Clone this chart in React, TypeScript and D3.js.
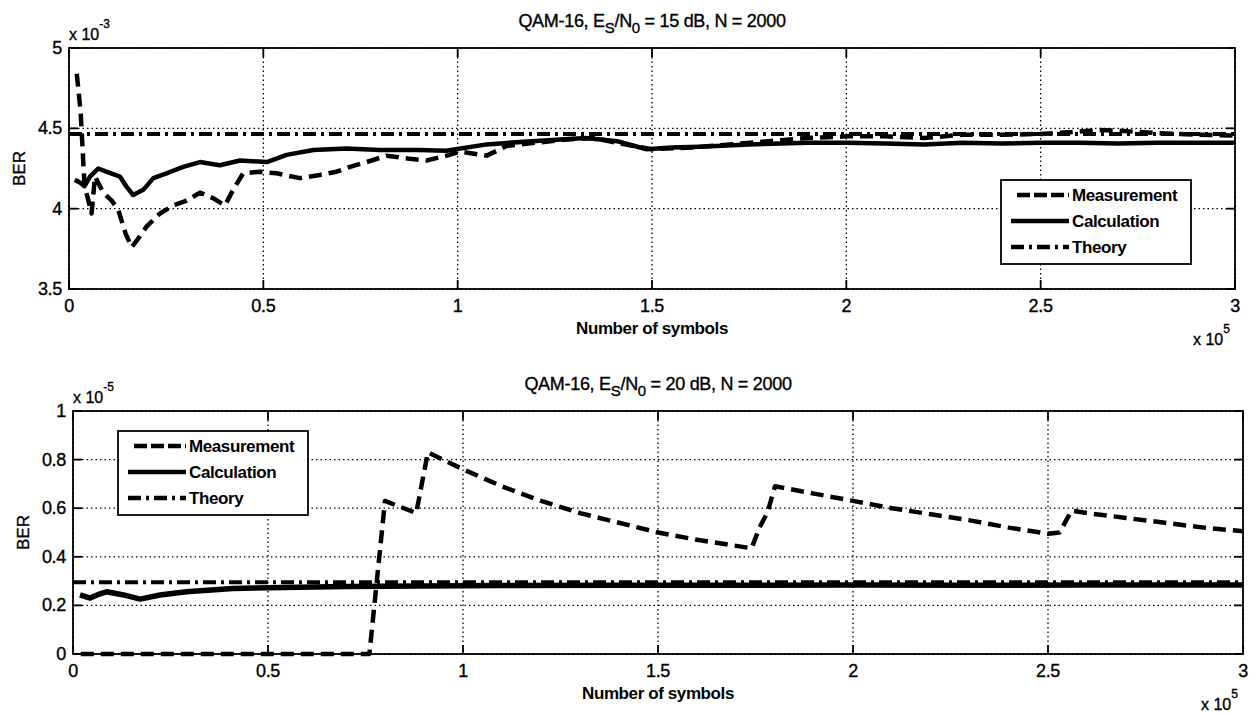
import React from 'react';
import * as d3 from 'd3';

// x in units of 1e5 symbols, BER in units of the axis exponent
const xTicks = [0, 0.5, 1, 1.5, 2, 2.5, 3];
const xTickLabels = ['0', '0.5', '1', '1.5', '2', '2.5', '3'];

const yTicksTop = [3.5, 4, 4.5, 5];
const yTickLabelsTop = ['3.5', '4', '4.5', '5'];
const yTicksBottom = [0, 0.2, 0.4, 0.6, 0.8, 1];
const yTickLabelsBottom = ['0', '0.2', '0.4', '0.6', '0.8', '1'];

const legendLabels = ['Measurement', 'Calculation', 'Theory'];

// Es/N0 = 15 dB (x 10^-3)
const measTop: [number, number][] = [
  [0.02, 4.84], [0.03, 4.6], [0.04, 4.14], [0.05, 4.05], [0.058, 3.97], [0.067, 4.2],
  [0.088, 4.1], [0.11, 4.05], [0.127, 3.99], [0.145, 3.85], [0.161, 3.76], [0.18, 3.82],
  [0.2, 3.89], [0.234, 3.97], [0.268, 4.02], [0.303, 4.05], [0.337, 4.1], [0.371, 4.065],
  [0.401, 4.02], [0.423, 4.12], [0.448, 4.22], [0.491, 4.23], [0.534, 4.22], [0.594, 4.19],
  [0.645, 4.21], [0.688, 4.23], [0.723, 4.26], [0.766, 4.29], [0.817, 4.33], [0.877, 4.31],
  [0.92, 4.3], [0.972, 4.33], [1.006, 4.355], [1.075, 4.33], [1.126, 4.39], [1.2, 4.41],
  [1.28, 4.43], [1.35, 4.44], [1.43, 4.4], [1.5, 4.37], [1.6, 4.38], [1.7, 4.4],
  [1.8, 4.42], [1.9, 4.44], [2.0, 4.45], [2.1, 4.45], [2.2, 4.44], [2.3, 4.46],
  [2.4, 4.46], [2.5, 4.465], [2.6, 4.48], [2.65, 4.49], [2.7, 4.485], [2.8, 4.47],
  [2.9, 4.46], [3.0, 4.455],
];
const calcTop: [number, number][] = [
  [0.015, 4.18], [0.03, 4.16], [0.04, 4.14], [0.054, 4.2], [0.075, 4.25], [0.096, 4.23],
  [0.131, 4.2], [0.148, 4.137], [0.165, 4.085], [0.191, 4.117], [0.217, 4.19], [0.251, 4.22],
  [0.294, 4.26], [0.337, 4.29], [0.388, 4.27], [0.44, 4.3], [0.509, 4.29], [0.56, 4.335],
  [0.629, 4.365], [0.714, 4.375], [0.8, 4.365], [0.9, 4.365], [0.97, 4.36], [1.075, 4.4],
  [1.19, 4.42], [1.33, 4.44], [1.41, 4.42], [1.486, 4.37], [1.55, 4.38], [1.623, 4.385],
  [1.75, 4.4], [1.9, 4.41], [2.0, 4.41], [2.1, 4.405], [2.2, 4.4], [2.3, 4.41],
  [2.4, 4.405], [2.5, 4.41], [2.6, 4.41], [2.7, 4.405], [2.8, 4.41], [2.9, 4.41], [3.0, 4.41],
];
const theoryTop: [number, number][] = [[0, 4.465], [3, 4.465]];

// Es/N0 = 20 dB (x 10^-5)
const measBottom: [number, number][] = [
  [0.02, 0], [0.76, 0], [0.8, 0.63], [0.88, 0.58], [0.91, 0.83], [1.0, 0.76],
  [1.1, 0.69], [1.2, 0.63], [1.3, 0.58], [1.4, 0.54], [1.5, 0.5], [1.6, 0.47],
  [1.74, 0.435], [1.76, 0.52], [1.78, 0.58], [1.8, 0.69], [1.9, 0.66], [2.0, 0.63],
  [2.1, 0.6], [2.2, 0.575], [2.3, 0.55], [2.4, 0.52], [2.5, 0.495], [2.53, 0.5],
  [2.56, 0.59], [2.6, 0.58], [2.7, 0.56], [2.8, 0.54], [2.9, 0.52], [3.0, 0.505],
];
const calcBottom: [number, number][] = [
  [0.018, 0.243], [0.044, 0.23], [0.065, 0.245], [0.086, 0.256], [0.13, 0.243], [0.172, 0.226],
  [0.223, 0.243], [0.291, 0.256], [0.41, 0.27], [0.58, 0.275], [0.7, 0.278], [0.89, 0.28],
  [1.1, 0.282], [1.4, 0.283], [1.7, 0.283], [2.0, 0.284], [2.3, 0.283], [2.6, 0.284], [3.0, 0.284],
];
const theoryBottom: [number, number][] = [[0, 0.295], [3, 0.295]];

const FONT = '"Liberation Sans", Arial, sans-serif';
const DASH = '13,7';
const DASHDOT = '13,5,3,5';

type PanelProps = {
  box: { left: number; right: number; top: number; bottom: number };
  yDomain: [number, number];
  yTicks: number[];
  yTickLabels: string[];
  yExp: string;
  esn0: string;
  meas: [number, number][];
  calc: [number, number][];
  theory: [number, number][];
  calcWidth: number;
  legend: { x: number; y: number };
  id: string;
};

function Panel({ box, yDomain, yTicks, yTickLabels, yExp, esn0, meas, calc, theory, calcWidth, legend, id }: PanelProps) {
  const x = d3.scaleLinear().domain([0, 3]).range([box.left, box.right]);
  const y = d3.scaleLinear().domain(yDomain).range([box.bottom, box.top]);
  const line = d3.line<[number, number]>().x(d => x(d[0])).y(d => y(d[1]));
  const cx = (box.left + box.right) / 2;
  const cy = (box.top + box.bottom) / 2;
  const tick = 9;
  const heavy = { stroke: '#000', strokeWidth: 0.35 };

  return (
    <g fontFamily={FONT} fill="#000">
      <defs>
        <clipPath id={id}>
          <rect x={box.left} y={box.top - 3} width={box.right - box.left} height={box.bottom - box.top + 6} />
        </clipPath>
      </defs>
      {/* grid */}
      {xTicks.map(t => (
        <line key={'gx' + t} x1={x(t)} x2={x(t)} y1={box.top} y2={box.bottom}
          stroke="#000" strokeWidth={1.3} strokeDasharray="1.5,3" />
      ))}
      {yTicks.map(t => (
        <line key={'gy' + t} x1={box.left} x2={box.right} y1={y(t)} y2={y(t)}
          stroke="#000" strokeWidth={1.3} strokeDasharray="1.5,3" />
      ))}
      {/* data */}
      <g clipPath={`url(#${id})`} fill="none" stroke="#000">
        <path d={line(theory) || ''} strokeWidth={4} strokeDasharray={DASHDOT} />
        <path d={line(calc) || ''} strokeWidth={calcWidth} strokeLinejoin="round" />
        <path d={line(meas) || ''} strokeWidth={4.5} strokeDasharray={DASH} strokeLinejoin="round" />
      </g>
      {/* box and ticks */}
      <rect x={box.left} y={box.top} width={box.right - box.left} height={box.bottom - box.top}
        fill="none" stroke="#000" strokeWidth={1.8} />
      {xTicks.map(t => (
        <g key={'tx' + t} stroke="#000" strokeWidth={1.8}>
          <line x1={x(t)} x2={x(t)} y1={box.bottom} y2={box.bottom - tick} />
          <line x1={x(t)} x2={x(t)} y1={box.top} y2={box.top + tick} />
        </g>
      ))}
      {yTicks.map(t => (
        <g key={'ty' + t} stroke="#000" strokeWidth={1.8}>
          <line x1={box.left} x2={box.left + tick} y1={y(t)} y2={y(t)} />
          <line x1={box.right} x2={box.right - tick} y1={y(t)} y2={y(t)} />
        </g>
      ))}
      {/* tick labels */}
      {xTicks.map((t, i) => (
        <text key={'lx' + t} x={x(t)} y={box.bottom + 23} fontSize={18} textAnchor="middle" letterSpacing={-0.3} {...heavy}>{xTickLabels[i]}</text>
      ))}
      {yTicks.map((t, i) => (
        <text key={'ly' + t} x={box.left - 7} y={y(t) + 6} fontSize={18} textAnchor="end" letterSpacing={-0.3} {...heavy}>{yTickLabels[i]}</text>
      ))}
      {/* exponents */}
      <text x={box.left} y={box.top - 8} fontSize={16} {...heavy}>
        x 10<tspan dy={-12} fontSize={12}>{yExp}</tspan>
      </text>
      <text x={box.right - 42} y={box.bottom + 56} fontSize={16} {...heavy}>
        x 10<tspan dy={-12} fontSize={12}>5</tspan>
      </text>
      {/* labels */}
      <text x={cx} y={box.bottom + 45} fontSize={17} fontWeight="bold" textAnchor="middle" letterSpacing={-0.4}>
        Number of symbols
      </text>
      <text transform={`translate(${box.left - 44},${cy}) rotate(-90)`} fontSize={17} textAnchor="middle" {...heavy}>BER</text>
      <text x={cx} y={box.top - 21} fontSize={18} textAnchor="middle" letterSpacing={-0.3} {...heavy}>
        QAM-16, E<tspan dy={6} fontSize={15}>S</tspan><tspan dy={-6}>/N</tspan>
        <tspan dy={6} fontSize={15}>0</tspan><tspan dy={-6}>{` = ${esn0} dB, N = 2000`}</tspan>
      </text>
      {/* legend */}
      <g transform={`translate(${legend.x},${legend.y})`}>
        <rect x={0} y={0} width={190} height={84} fill="#fff" stroke="#000" strokeWidth={1.8} />
        {legendLabels.map((lab, i) => (
          <g key={lab} transform={`translate(0,${15 + i * 26})`}>
            <line x1={i === 0 ? 16 : 10} x2={68} y1={0} y2={0} stroke="#000" strokeWidth={4.5}
              strokeDasharray={i === 0 ? '13,4' : i === 2 ? DASHDOT : undefined} />
            <text x={71} y={6} fontSize={17} fontWeight="bold" letterSpacing={-0.4}>{lab}</text>
          </g>
        ))}
      </g>
    </g>
  );
}

export default function App() {
  return (
    <svg width={1255} height={713} style={{ position: 'absolute', left: 0, top: 0, background: '#fff' }}>
      <rect width={1255} height={713} fill="#fff" />
      <Panel id="clipTop" box={{ left: 69, right: 1235, top: 48, bottom: 289 }} yDomain={[3.5, 5]}
        yTicks={yTicksTop} yTickLabels={yTickLabelsTop} yExp="-3" esn0="15" calcWidth={4.5}
        meas={measTop} calc={calcTop} theory={theoryTop} legend={{ x: 1001, y: 180 }} />
      <Panel id="clipBottom" box={{ left: 73, right: 1243, top: 411, bottom: 654 }} yDomain={[0, 1]}
        yTicks={yTicksBottom} yTickLabels={yTickLabelsBottom} yExp="-5" esn0="20" calcWidth={5.5}
        meas={measBottom} calc={calcBottom} theory={theoryBottom} legend={{ x: 118, y: 431 }} />
    </svg>
  );
}
